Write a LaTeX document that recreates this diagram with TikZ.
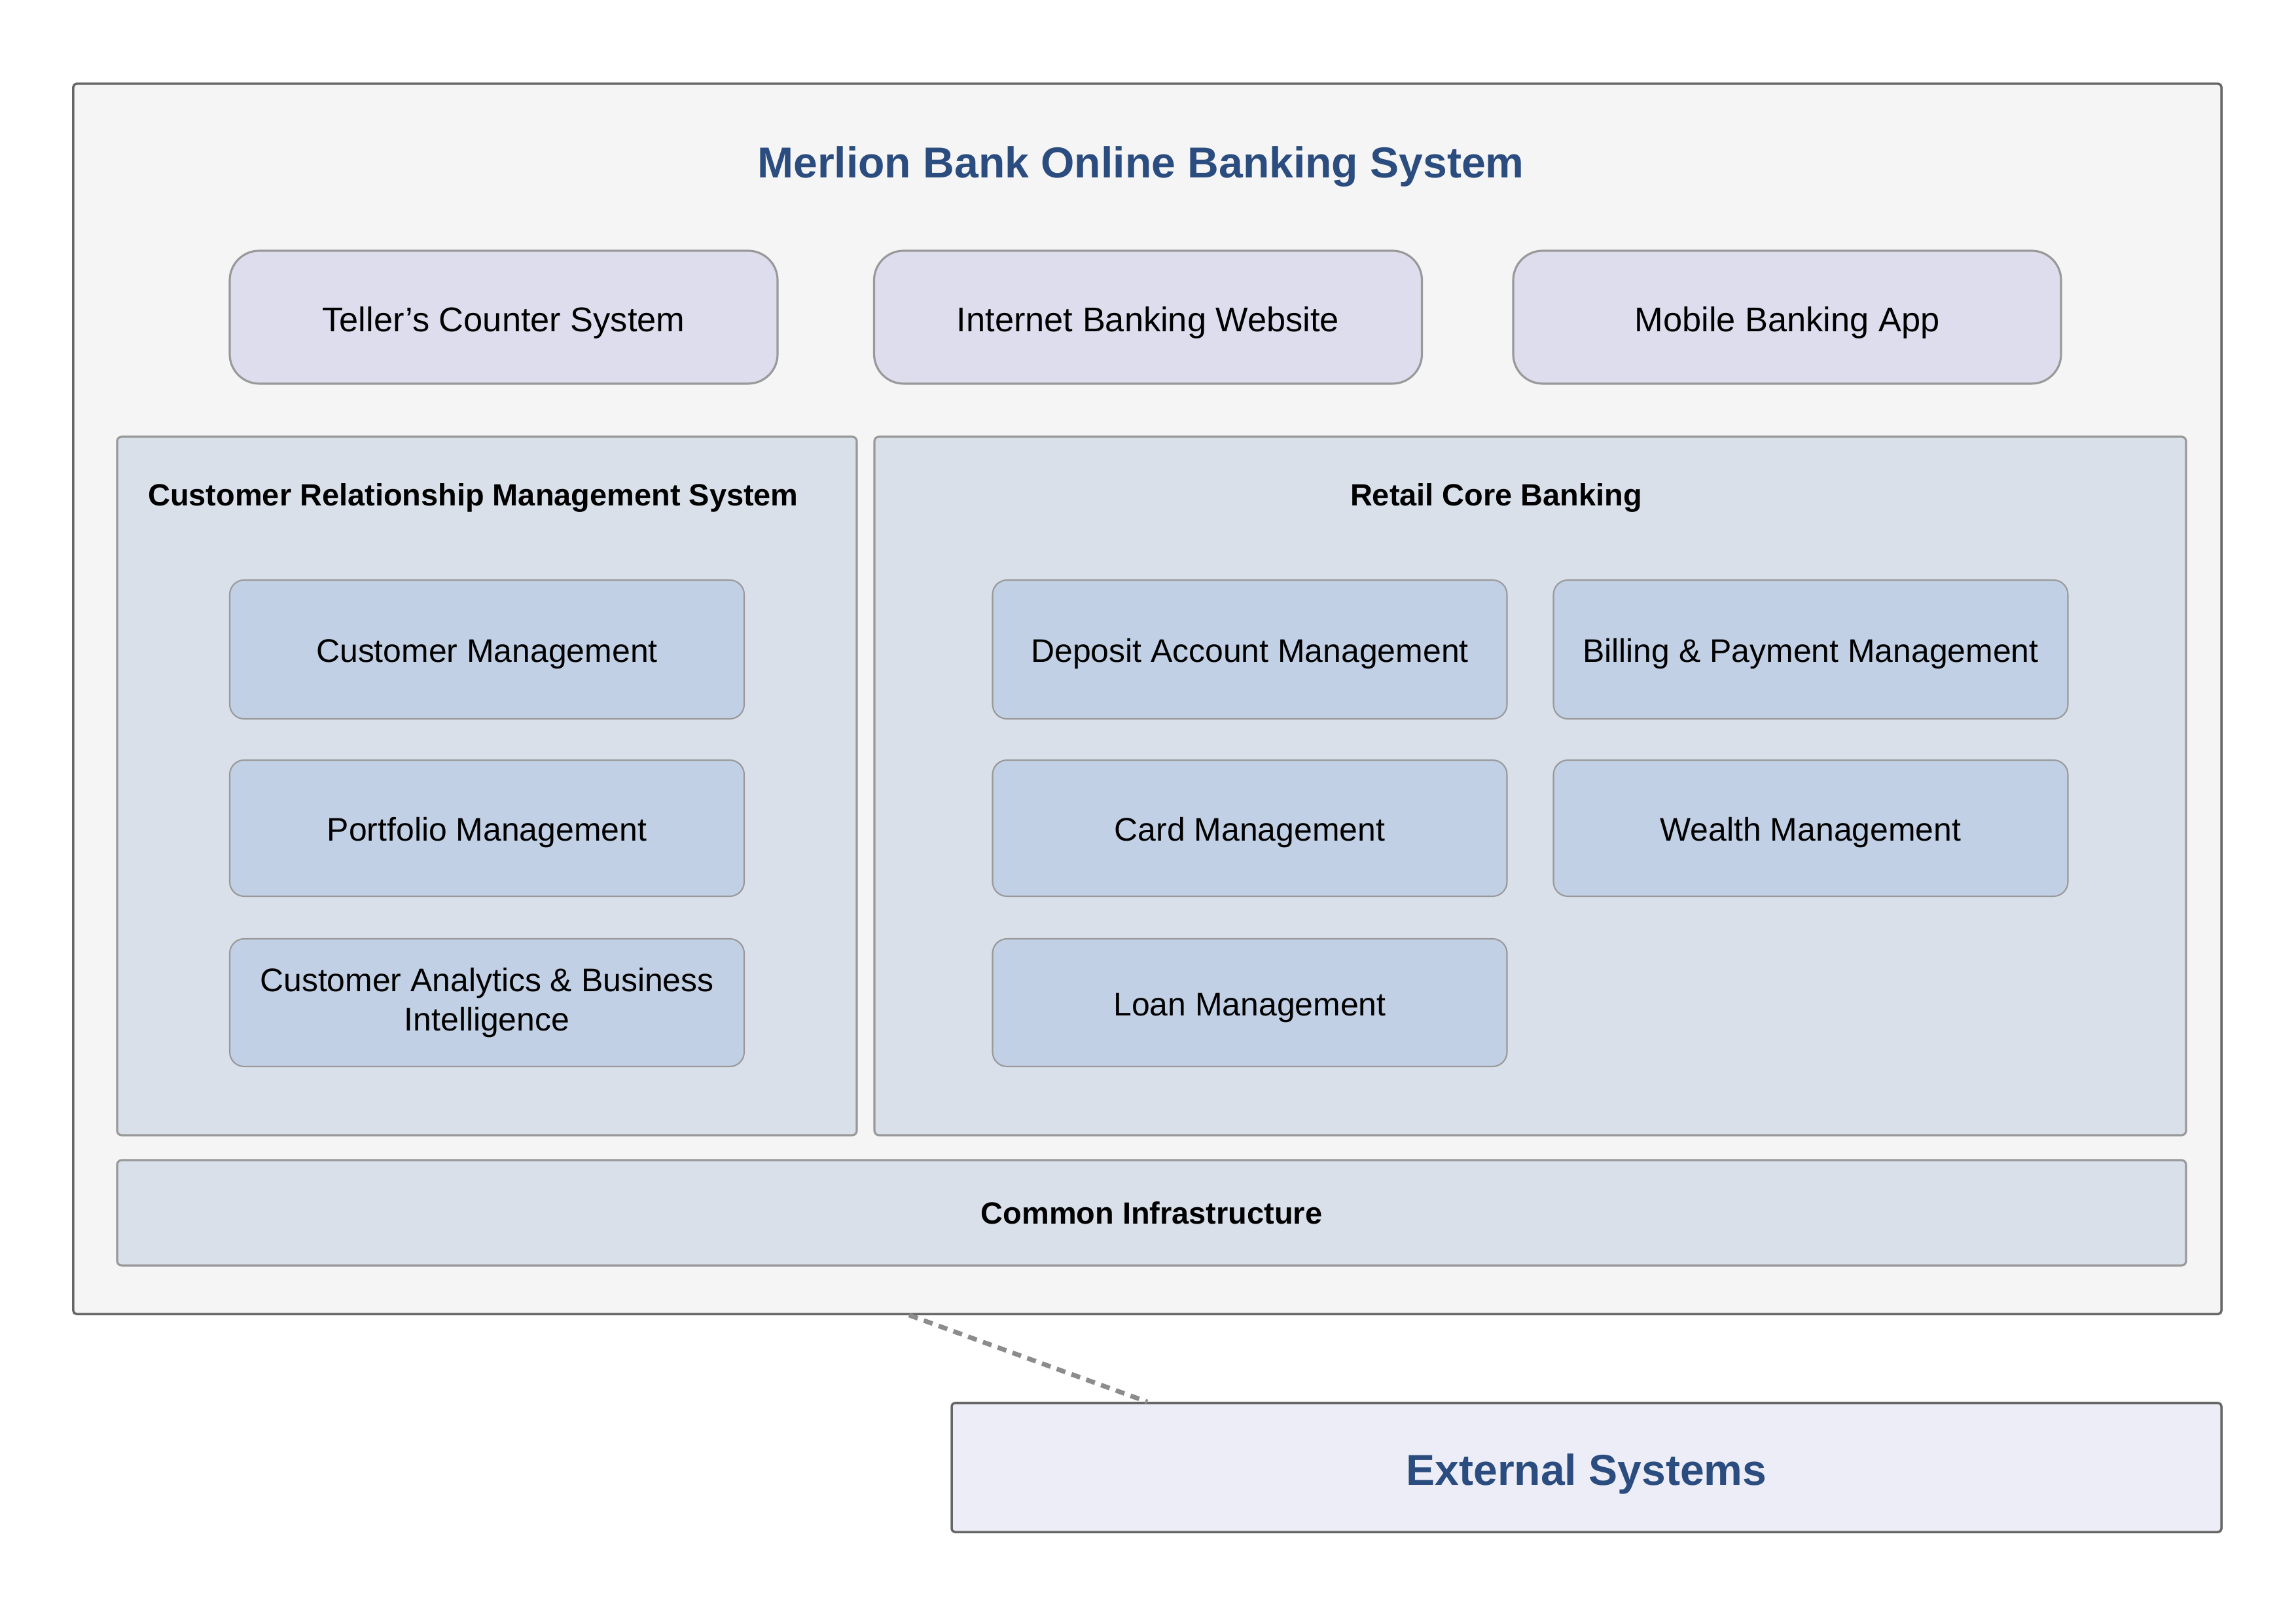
\documentclass[tikz,border=0pt]{standalone}
\usepackage{fontspec}
\setmainfont{Liberation Sans}
\usepackage{xcolor}
\usetikzlibrary{calc}
\definecolor{navy}{HTML}{2B4C7E}
\definecolor{frame}{HTML}{666666}
\definecolor{edge}{HTML}{999999}
\definecolor{paper}{HTML}{F5F5F5}
\definecolor{lilac}{HTML}{DDDDED}
\definecolor{group}{HTML}{D9E0EA}
\definecolor{module}{HTML}{C1D0E4}
\definecolor{extfill}{HTML}{ECEDF6}
\definecolor{dots}{HTML}{8C8C8C}

\begin{document}
\begin{tikzpicture}[x=1mm, y=-1mm,
  lowtext/.style={text height=#1, text depth=0pt},
  channel/.style={draw=edge, line width=0.9pt, fill=lilac, rounded corners=4.5mm, lowtext=12.5pt,
    minimum width=83.7mm, minimum height=20.3mm, font=\fontsize{14.9}{17}\selectfont},
  groupbox/.style={draw=edge, line width=0.9pt, fill=group, rounded corners=0.7mm},
  grouptitle/.style={font=\bfseries\fontsize{13.35}{16}\selectfont},
  modbox/.style={draw=edge, line width=0.6pt, fill=module, rounded corners=2.2mm,
    minimum width=78.6mm, align=center, font=\fontsize{14.2}{17}\selectfont}]
  \useasboundingbox[fill=white] (0,0) rectangle (350.8,247.9);

  \node[draw=frame, line width=1pt, fill=paper, rounded corners=0.5mm,
    minimum width=328.2mm, minimum height=187.9mm] (bank) at (175.3,106.75) {};
  \node[font=\bfseries\color{navy}\fontsize{18.8}{22}\selectfont] (title) at (174.3,25.5) {Merlion Bank Online Banking System};

  \node[channel] (teller) at (76.95,48.45) {Teller’s Counter System};
  \node[channel] (web) at (175.4,48.45) {Internet Banking Website};
  \node[channel] (app) at (273.05,48.45) {Mobile Banking App};

  \node[groupbox, minimum width=113mm, minimum height=106.7mm] (crm) at (74.4,120.05) {};
  \node[grouptitle] (crmtitle) at (72.3,76) {Customer Relationship Management System};
  \node[modbox, lowtext=11.3pt, minimum height=21.2mm] (custmgmt) at (74.4,99.2) {Customer Management};
  \node[modbox, lowtext=11.3pt, minimum height=20.8mm] (portmgmt) at (74.4,126.5) {Portfolio Management};
  \node[modbox, minimum height=19.5mm] (analytics) at (74.4,153.15) {Customer Analytics \& Business\\Intelligence};

  \node[groupbox, minimum width=200.4mm, minimum height=106.7mm] (core) at (233.8,120.05) {};
  \node[grouptitle] (coretitle) at (228.6,76) {Retail Core Banking};
  \node[modbox, lowtext=11.3pt, minimum height=21.2mm] (deposit) at (190.95,99.2) {Deposit Account Management};
  \node[modbox, lowtext=11.3pt, minimum height=21.2mm] (billing) at (276.65,99.2) {Billing \& Payment Management};
  \node[modbox, lowtext=11.3pt, minimum height=20.8mm] (card) at (190.95,126.5) {Card Management};
  \node[modbox, lowtext=11.3pt, minimum height=20.8mm] (wealth) at (276.65,126.5) {Wealth Management};
  \node[modbox, lowtext=11.3pt, minimum height=19.5mm] (loan) at (190.95,153.15) {Loan Management};

  \node[groupbox, minimum width=316.1mm, minimum height=16.1mm, font=\bfseries\fontsize{13.35}{16}\selectfont] (infra) at (175.95,185.25) {Common Infrastructure};

  \node[draw=frame, line width=1pt, fill=extfill, rounded corners=0.5mm, lowtext=15.1pt,
    minimum width=194mm, minimum height=19.7mm, font=\bfseries\color{navy}\fontsize{18.8}{22}\selectfont] (external) at (242.4,224.15) {External Systems};

  \coordinate (link) at ($(bank.south)+(-36.4,0)$);
  \draw[dots, line width=2pt, dash pattern=on 1.4mm off 1mm] (link) -- (external.north -| bank.south);
\end{tikzpicture}
\end{document}
